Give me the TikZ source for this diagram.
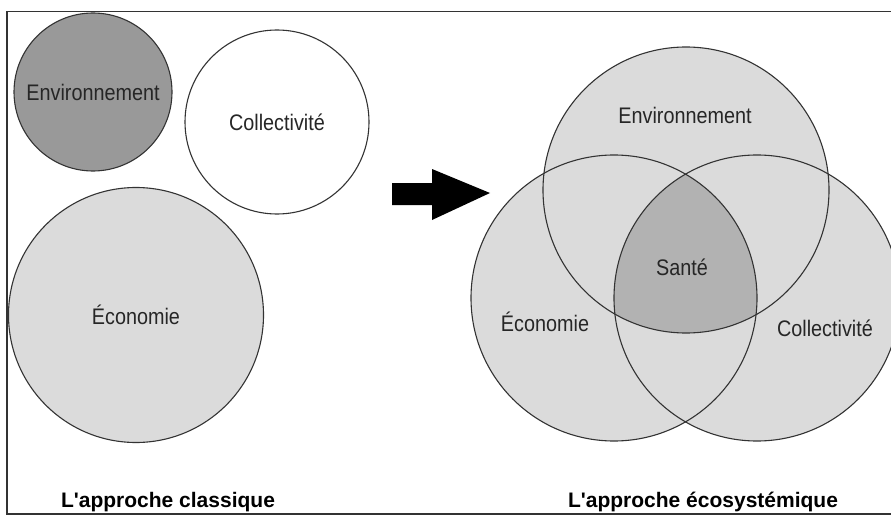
\documentclass[tikz,border=0pt]{standalone}
\usepackage{fontspec}
\setmainfont{Liberation Sans}
\newfontfamily\narrowfont{Liberation Sans}[FakeStretch=0.88]
\usetikzlibrary{calc}

\definecolor{paleGrey}{gray}{0.86}
\definecolor{santeGrey}{gray}{0.70}
\definecolor{envGrey}{gray}{0.60}

\tikzset{
	ring/.style={draw=black!80, line width=1.1pt},
	bubble/.style={circle, ring, inner sep=0pt, font=\narrowfont\fontsize{22.5}{26}\selectfont, text=black!85},
	lbl/.style={inner sep=0pt, font=\narrowfont\fontsize{22.5}{26}\selectfont, text=black!85},
	heading/.style={inner sep=0pt, anchor=base, font=\bfseries\fontsize{21}{25}\selectfont}
}

\begin{document}
\begin{tikzpicture}[x=1pt,y=-1pt]
	\useasboundingbox (0,0) rectangle (891,516);
	\clip (0,0) rectangle (891,516);
	
	\draw[black!80, line width=1.4pt] (891,11.5) -- (7,11.5) -- (7,514) -- (891,514);
	
	\node[bubble, fill=envGrey, minimum size=158pt] (envL) at (93,92) {Environnement};
	\node[bubble, fill=white, minimum size=184pt] (colL) at (277,122) {Collectivit\'e};
	\node[bubble, fill=paleGrey, minimum size=255pt] (ecoL) at (136,315) {\'Economie};
	
	\fill[black] (392,183) -- (432,183) -- (432,169) -- (490,193) -- (432,220) -- (432,205) -- (392,205) -- cycle;
	
	\coordinate (envR) at (686,190);
	\coordinate (ecoR) at (614,298);
	\coordinate (colR) at (757,298);
	
	\foreach \c in {envR,ecoR,colR}
		\fill[paleGrey] (\c) circle (143);
	\begin{scope}
		\clip (envR) circle (143);
		\clip (ecoR) circle (143);
		\fill[santeGrey] (colR) circle (143);
	\end{scope}
	\foreach \c in {envR,ecoR,colR}
		\draw[ring] (\c) circle (143);
	
	\node[lbl] (envT) at (685,115) {Environnement};
	\node[lbl] (sante) at (682,267) {Sant\'e};
	\node[lbl] (ecoT) at (545,322) {\'Economie};
	\node[lbl] (colT) at (825,328) {Collectivit\'e};
	
	\node[heading] (classic) at (168,507) {L\textquotesingle approche classique};
	\node[heading] (ecosys) at (703,507) {L\textquotesingle approche \'ecosyst\'emique};
\end{tikzpicture}
\end{document}
